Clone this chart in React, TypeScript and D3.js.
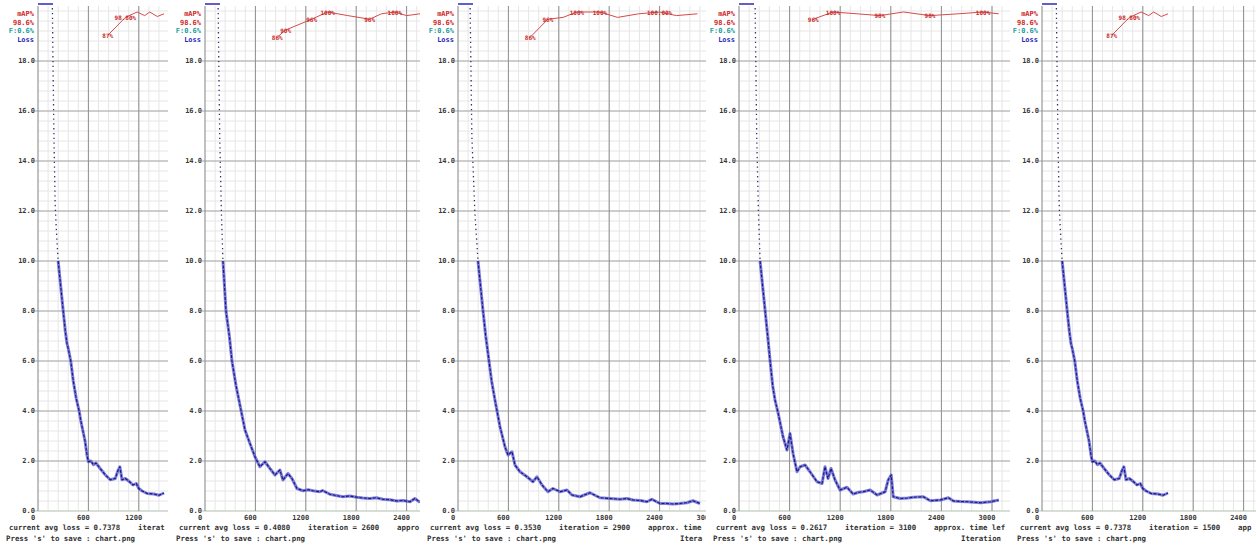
import React from "react";
import * as d3 from "d3";

// loss curves: [iteration, avg loss]
const lossRunA: [number, number][] = [
  [170, 20.5], [180, 17.5], [192, 14.5], [205, 12.2], [222, 11], [240, 10], [270, 9], [300, 8],
  [325, 7.2], [345, 6.7], [360, 6.5], [390, 6], [420, 5.2], [455, 4.5], [490, 4], [510, 3.6],
  [535, 3.2], [560, 2.8], [585, 2.2], [600, 1.97], [630, 2.0], [660, 1.85], [690, 1.92],
  [740, 1.7], [800, 1.45], [860, 1.25], [920, 1.3], [950, 1.6], [975, 1.77], [1000, 1.25],
  [1040, 1.3], [1090, 1.17], [1130, 1.04], [1170, 1.1], [1200, 0.9], [1240, 0.8], [1300, 0.7],
  [1380, 0.68], [1440, 0.63], [1500, 0.72],
];
const lossRunB: [number, number][] = [
  [155, 20.5], [175, 15], [195, 12], [214, 10], [250, 8], [290, 7], [321, 6], [370, 5],
  [428, 4.04], [476, 3.24], [535, 2.7], [595, 2.17], [654, 1.77], [714, 1.97], [773, 1.7],
  [833, 1.44], [892, 1.64], [928, 1.24], [988, 1.5], [1035, 1.3], [1095, 0.9], [1166, 0.81],
  [1230, 0.85], [1285, 0.81], [1368, 0.77], [1400, 0.82], [1487, 0.67], [1560, 0.62],
  [1642, 0.57], [1720, 0.6], [1809, 0.55], [1880, 0.52], [1963, 0.5], [2040, 0.53],
  [2118, 0.47], [2200, 0.45], [2285, 0.4], [2360, 0.42], [2440, 0.37], [2499, 0.5], [2559, 0.35],
];
const lossRunC: [number, number][] = [
  [143, 20.5], [165, 15], [200, 12], [238, 10], [298, 8], [330, 7], [369, 6], [400, 5.2],
  [440, 4.44], [500, 3.37], [559, 2.57], [595, 2.24], [643, 2.37], [678, 1.84], [738, 1.57],
  [821, 1.37], [892, 1.17], [940, 1.37], [1000, 1.04], [1071, 0.77], [1130, 0.9], [1214, 0.77],
  [1297, 0.84], [1357, 0.64], [1452, 0.57], [1571, 0.73], [1690, 0.53], [1809, 0.5],
  [1928, 0.47], [2011, 0.5], [2083, 0.44], [2170, 0.42], [2249, 0.37], [2309, 0.47],
  [2404, 0.3], [2480, 0.3], [2559, 0.28], [2640, 0.3], [2725, 0.33], [2797, 0.41], [2880, 0.3],
];
const lossRunD: [number, number][] = [
  [190, 20.5], [210, 15], [230, 12], [250, 10], [310, 8], [340, 7], [369, 6], [400, 5],
  [427, 4.44], [465, 3.9], [522, 2.97], [569, 2.44], [605, 3.1], [641, 2.3], [688, 1.57],
  [725, 1.77], [783, 1.84], [842, 1.57], [925, 1.17], [985, 1.1], [1020, 1.77], [1055, 1.3],
  [1091, 1.7], [1139, 1.24], [1198, 0.84], [1281, 0.95], [1353, 0.68], [1420, 0.75],
  [1472, 0.77], [1555, 0.84], [1638, 0.64], [1733, 0.77], [1769, 1.24], [1805, 1.44],
  [1829, 0.57], [1912, 0.5], [2000, 0.52], [2067, 0.55], [2186, 0.57], [2270, 0.41],
  [2388, 0.44], [2483, 0.53], [2543, 0.4], [2630, 0.38], [2709, 0.37], [2864, 0.33],
  [2983, 0.37], [3080, 0.44],
];

// mAP points: [iteration, mAP %, label]
const mapRunA: [number, number, string][] = [
  [830, 87, "87%"], [1040, 97, "98.80%"], [1180, 100, ""], [1270, 98, ""],
  [1330, 100, ""], [1420, 97.5, ""], [1500, 99, ""],
];
const mapRunB: [number, number, string][] = [
  [860, 86, "86%"], [960, 90, "90%"], [1270, 96, "96%"], [1460, 100, "100%"], [1700, 98, ""],
  [1960, 96, "96%"], [2100, 99, ""], [2260, 100, "100%"], [2400, 98, ""], [2560, 99, ""],
];
const mapRunC: [number, number, string][] = [
  [860, 86, "86%"], [1070, 96, "96%"], [1250, 97, ""], [1416, 100, "100%"], [1690, 100, "100%"],
  [1900, 97, ""], [2150, 99, ""], [2400, 100, "100.00%"], [2600, 98, ""], [2850, 99, ""],
];
const mapRunD: [number, number, string][] = [
  [880, 96, "96%"], [1115, 100, "100%"], [1400, 99, ""], [1670, 98, "98%"], [1950, 100, ""],
  [2265, 98, "98%"], [2600, 99, ""], [2894, 100, "100%"], [3080, 99, ""],
];

const yTickValues = [0, 2, 4, 6, 8, 10, 12, 14, 16, 18];
const xTickValues = [0, 600, 1200, 1800, 2400, 3000];
const legendTexts = ["mAP%", "98.6%", "F:0.6%", "Loss"];
const avgLosses = ["0.7378", "0.4080", "0.3530", "0.2617", "0.7378"];
const iterations = ["1500", "2600", "2900", "3100", "1500"];

const panels = [
  { id: "p1", left: 0, right: 168, x0: 38, px600: 50.4, loss: lossRunA, map: mapRunA },
  { id: "p2", left: 170, right: 420, x0: 205, px600: 50.4, loss: lossRunB, map: mapRunB },
  { id: "p3", left: 421, right: 706, x0: 458, px600: 50.4, loss: lossRunC, map: mapRunC },
  { id: "p4", left: 707, right: 1010, x0: 739, px600: 50.6, loss: lossRunD, map: mapRunD },
  { id: "p5", left: 1011, right: 1256, x0: 1042, px600: 50.4, loss: lossRunA, map: mapRunA },
];

const mono = "'DejaVu Sans Mono', monospace";
const legendColors = ["#d02828", "#d02828", "#1c9c9c", "#2a2ab8"];
const statusSize = 7.4;
const charW = statusSize * 0.602;

const y = d3.scaleLinear().domain([0, 20]).range([511, 11]);
const yMap = d3.scaleLinear().domain([80, 100]).range([48, 12]);

// screenshots are cropped, so cut the status text where the panel ends
const fit = (s: string, from: number, to: number) => s.slice(0, Math.max(0, Math.floor((to - from) / charW)));

function Panel({ p, i }: { p: (typeof panels)[number]; i: number }) {
  const x = d3.scaleLinear().domain([0, 600]).range([p.x0, p.x0 + p.px600]);
  const minorX = d3.range(0, 3601, 120);
  const minorY = d3.range(0, 20.01, 0.4);
  const line = d3.line<[number, number]>().x((d) => x(d[0])).y((d) => y(d[1]));
  const mapLine = d3.line<[number, number, string]>().x((d) => x(d[0])).y((d) => yMap(d[1]));
  const line1 = `current avg loss = ${avgLosses[i]}    iteration = ${iterations[i]}    approx. time left = 0.42 hours`;

  // the steep start is drawn as sparse dots, the rest as a thick band
  const cut = p.loss.findIndex((d) => d[1] <= 10);
  const head = p.loss.slice(0, cut + 1);
  const tail = p.loss.slice(cut);
  const visibleTicks = xTickValues.filter((v) => x(v) - 14 < p.right);
  const iterX = p.x0 + 222;

  return (
    <g clipPath={`url(#clip-${p.id})`}>
      <defs>
        <clipPath id={`clip-${p.id}`}>
          <rect x={p.left} y={0} width={p.right - p.left} height={546} />
        </clipPath>
        <clipPath id={`plot-${p.id}`}>
          <rect x={p.x0} y={6} width={p.right - p.x0} height={506} />
        </clipPath>
      </defs>

      {/* minor grid */}
      {minorY.map((v) => (
        <line key={`my${v}`} x1={p.x0} x2={p.right} y1={y(v)} y2={y(v)} stroke="#e6e6e6" />
      ))}
      {minorX.map((v) => (
        <line key={`mx${v}`} x1={x(v)} x2={x(v)} y1={6} y2={511} stroke="#e6e6e6" />
      ))}
      {/* major grid */}
      {yTickValues.map((v) => (
        <line key={`gy${v}`} x1={p.x0 - 3} x2={p.right} y1={y(v)} y2={y(v)}
          stroke={v === 0 ? "#b9c9b9" : "#a8a8a8"} />
      ))}
      {xTickValues.map((v) => (
        <line key={`gx${v}`} x1={x(v)} x2={x(v)} y1={6} y2={511} stroke="#8e8e8e" />
      ))}

      {yTickValues.map((v) => (
        <text key={`ty${v}`} x={p.x0 - 3} y={y(v) + 2} textAnchor="end" fontFamily={mono}
          fontWeight="bold" fontSize={7} fill="#3a3a3a">{v.toFixed(1)}</text>
      ))}
      {visibleTicks.map((v) => (
        <text key={`tx${v}`} x={x(v) - 5} y={520} textAnchor="middle" fontFamily={mono}
          fontWeight="bold" fontSize={7} fill="#3a3a3a">{v}</text>
      ))}

      {/* mAP line */}
      <path d={mapLine(p.map) ?? ""} fill="none" stroke="#d84a4a" strokeWidth={1} />
      {p.map.filter((d) => d[2] !== "" && x(d[0]) < p.right).map((d) => (
        <text key={`ml${d[0]}`} x={x(d[0])} y={yMap(d[1]) + 2.5} textAnchor="middle" fontFamily={mono}
          fontWeight="bold" fontSize={6} fill="#c82828">{d[2]}</text>
      ))}

      {/* legend */}
      <line x1={p.x0} x2={p.x0 + 15} y1={4} y2={4} stroke="#2a2ab8" strokeWidth={1.5} />
      {legendTexts.map((t, k) => (
        <text key={t} x={p.x0 - 4} y={16 + k * 8.5} textAnchor="end" fontFamily={mono}
          fontWeight="bold" fontSize={7} fill={legendColors[k]}>{t}</text>
      ))}

      {/* loss */}
      <g clipPath={`url(#plot-${p.id})`}>
        <path d={line(head) ?? ""} fill="none" stroke="#30306a" strokeWidth={1.3}
          strokeDasharray="1.3 3.5" />
        <path d={line(tail) ?? ""} fill="none" stroke="#5050dc" strokeWidth={3} strokeOpacity={0.75}
          strokeLinejoin="round" />
        <path d={line(tail) ?? ""} fill="none" stroke="#1a1a66" strokeWidth={1.1} strokeLinejoin="round"
          strokeDasharray="3 1.5" />
      </g>

      {/* status text */}
      <text x={p.left + 9} y={530} fontFamily={mono} fontWeight="bold" fontSize={statusSize} fill="#333"
        xmlSpace="preserve">{fit(line1, p.left + 9, p.right)}</text>
      <text x={p.left + 6} y={541} fontFamily={mono} fontWeight="bold" fontSize={statusSize} fill="#333">
        {fit("Press 's' to save : chart.png", p.left + 6, Math.min(p.right, iterX - 4))}
      </text>
      {iterX + charW * 2 < p.right && (
        <text x={iterX} y={541} fontFamily={mono} fontWeight="bold" fontSize={statusSize} fill="#333">
          {fit("Iteration number", iterX, p.right)}
        </text>
      )}
    </g>
  );
}

export default function App() {
  return (
    <svg width={1256} height={546} style={{ position: "absolute", left: 0, top: 0, background: "#fff" }}>
      <rect width={1256} height={546} fill="#fff" />
      {panels.map((p, i) => (
        <Panel key={p.id} p={p} i={i} />
      ))}
    </svg>
  );
}
